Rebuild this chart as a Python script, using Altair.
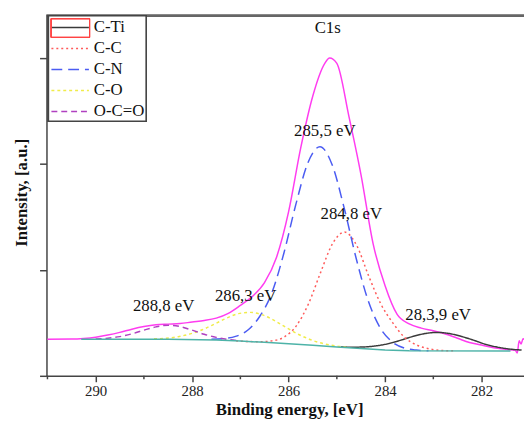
import altair as alt
import pandas as pd

# ---------------- data ----------------
series_names = ["C-Ti", "C-C", "C-N", "C-O", "O-C=O"]
series_colors = ["#3a3a3a", "#ff5a5a", "#4b5cf2", "#f0ec4a", "#b040c0"]
series_dashes = [[1, 0], [2, 3], [11, 6], [3, 3], [6, 4]]

# envelope (sum curve)
env_e = [291.0, 290.5, 290.25, 290.0, 289.75, 289.5, 289.25, 289.0, 288.75, 288.5,
         288.25, 288.0, 287.75, 287.5, 287.25, 287.0, 286.75, 286.5, 286.25, 286.0,
         285.75, 285.5, 285.25, 285.15, 285.0, 284.75, 284.5, 284.25, 284.0, 283.75,
         283.5, 283.25, 283.0, 282.75, 282.5, 282.25, 282.0, 281.75, 281.5, 281.3,
         281.26, 281.22, 281.18, 281.14, 281.1]
env_v = [0.345, 0.347, 0.353, 0.365, 0.385, 0.41, 0.44, 0.465, 0.482, 0.488,
         0.493, 0.508, 0.522, 0.545, 0.59, 0.665, 0.75, 0.88, 1.12, 1.55,
         2.15, 2.64, 2.95, 3.0, 2.95, 2.45, 1.9, 1.25, 0.85, 0.58,
         0.49, 0.45, 0.425, 0.395, 0.355, 0.315, 0.29, 0.265, 0.25, 0.24,
         0.215, 0.33, 0.30, 0.35, 0.34]

# C-N component
cn_e = [287.60, 287.35, 287.10, 286.85, 286.60, 286.35, 286.10, 285.85, 285.60, 285.35,
        285.10, 284.85, 284.60, 284.35, 284.10, 283.85, 283.60, 283.35, 283.10]
cn_v = [0.345, 0.352, 0.372, 0.43, 0.56, 0.78, 1.155, 1.618, 2.011, 2.163,
        1.995, 1.588, 1.11, 0.709, 0.452, 0.319, 0.262, 0.243, 0.237]

# C-C component
cc_e = [287.09, 286.84, 286.59, 286.34, 286.09, 285.84, 285.59, 285.34, 285.09, 284.84,
        284.59, 284.34, 284.09, 283.84, 283.59, 283.34, 283.09, 282.84, 282.59]
cc_v = [0.330, 0.324, 0.322, 0.330, 0.367, 0.472, 0.678, 0.972, 1.247, 1.357,
        1.232, 0.942, 0.68, 0.50, 0.36, 0.29, 0.255, 0.24, 0.236]

# C-O component
co_e = [288.79, 288.54, 288.29, 288.04, 287.79, 287.54, 287.29, 287.04, 286.79, 286.54,
        286.29, 286.04, 285.79, 285.54, 285.29, 285.04, 284.79]
co_v = [0.349, 0.355, 0.369, 0.396, 0.435, 0.488, 0.544, 0.587, 0.599, 0.575,
        0.521, 0.453, 0.390, 0.340, 0.305, 0.283, 0.270]

# O-C=O component
oco_e = [290.0, 289.75, 289.5, 289.25, 289.0, 288.75, 288.5, 288.25, 288.0, 287.75,
         287.5, 287.25, 287.0]
oco_v = [0.348, 0.355, 0.370, 0.396, 0.431, 0.462, 0.478, 0.465, 0.431, 0.392,
         0.363, 0.343, 0.331]

# C-Ti component
cti_e = [284.92, 284.67, 284.42, 284.17, 283.92, 283.67, 283.42, 283.17, 282.92, 282.67,
         282.42, 282.17, 281.92, 281.67, 281.42, 281.17]
cti_v = [0.273, 0.270, 0.273, 0.284, 0.305, 0.337, 0.372, 0.399, 0.410, 0.399,
         0.372, 0.337, 0.298, 0.271, 0.253, 0.243]

# background
bg_e = [290.3, 288.5, 287.5, 287.0, 286.5, 286.0, 285.5, 285.0, 284.5, 284.0, 283.5, 281.4]
bg_v = [0.345, 0.345, 0.338, 0.328, 0.316, 0.302, 0.288, 0.272, 0.257, 0.243, 0.236, 0.235]

# annotations
ann_text = ["C1s", "285,5 eV", "284,8 eV", "286,3 eV", "288,8 eV", "28,3,9 eV"]
ann_e = [285.19, 285.25, 284.70, 286.89, 288.59, 282.90]
ann_v = [3.28, 2.31, 1.53, 0.755, 0.655, 0.575]

major_ticks = [290, 288, 286, 284, 282]
minor_ticks = [291, 289, 287, 285, 283]
y_ticks = [0, 1, 2, 3]

# ---------------- build tables ----------------
comp_rows = []
for name, es, vs in [("C-Ti", cti_e, cti_v), ("C-C", cc_e, cc_v), ("C-N", cn_e, cn_v),
                     ("C-O", co_e, co_v), ("O-C=O", oco_e, oco_v)]:
    for i, (e, v) in enumerate(zip(es, vs)):
        comp_rows.append({"series": name, "E": e, "v": v, "i": i})
comp_df = pd.DataFrame(comp_rows)
env_df = pd.DataFrame({"E": env_e, "v": env_v, "i": range(len(env_e))})
bg_df = pd.DataFrame({"E": bg_e, "v": bg_v, "i": range(len(bg_e))})
ann_df = pd.DataFrame({"E": ann_e, "v": ann_v, "t": ann_text})
minor_df = pd.DataFrame({"E": minor_ticks})
leg_df = pd.DataFrame({"series": series_names})

W, H = 484, 365
FONT = "Liberation Serif, Times New Roman, Times, serif"
TXT = "#111111"

xscale = alt.Scale(domain=[281.12, 291.02], reverse=True, nice=False, zero=False)
yscale = alt.Scale(domain=[0, 3.4], nice=False, zero=False)

xaxis = alt.Axis(values=major_ticks, format="d", tickSize=6, labelFontSize=15,
                 labelFont=FONT, labelColor="#222", labelPadding=2,
                 domainColor="#444", domainWidth=1.5, tickColor="#444", tickWidth=1.5,
                 title="Binding energy, [eV]", titleFont=FONT, titleFontSize=17,
                 titleFontWeight="bold", titleColor=TXT, titleX=246, titleY=34,
                 titleBaseline="middle", titleAlign="center", grid=False)
yaxis = alt.Axis(values=y_ticks, labels=False, tickSize=7, tickColor="#444", tickWidth=1.5,
                 domainColor="#444", domainWidth=1.5,
                 title="Intensity, [a.u.]", titleFont=FONT, titleFontSize=17,
                 titleFontWeight="bold", titleColor=TXT, titleAngle=270,
                 titleX=-25, titleY=179, titleBaseline="middle", titleAlign="center",
                 grid=False)

X = alt.X("E:Q", scale=xscale, axis=xaxis)
Y = alt.Y("v:Q", scale=yscale, axis=yaxis)
COLOR = alt.Color("series:N", scale=alt.Scale(domain=series_names, range=series_colors),
                  legend=None)
DASH = alt.StrokeDash("series:N", scale=alt.Scale(domain=series_names, range=series_dashes),
                      legend=None)

envelope = alt.Chart(env_df).mark_line(color="#ff3cf0", strokeWidth=1.5,
                                        interpolate="monotone").encode(x=X, y=Y, order="i:Q")

components = alt.Chart(comp_df).mark_line(strokeWidth=1.5, interpolate="monotone").encode(
    x=X, y=Y, order="i:Q", color=COLOR, strokeDash=DASH)

background = alt.Chart(bg_df).mark_line(color="#4db3a8", strokeWidth=1.5).encode(
    x=X, y=Y, order="i:Q")

labels = alt.Chart(ann_df).mark_text(font=FONT, fontSize=17, color=TXT).encode(
    x=X, y=Y, text="t:N")

minor = alt.Chart(minor_df).mark_rule(color="#444", strokeWidth=1.5).encode(
    x=X, y=alt.value(H), y2=alt.value(H + 3.5))

top_line = alt.Chart(minor_df).mark_rule(color="#666", strokeWidth=2).encode(
    x=alt.value(0), x2=alt.value(W), y=alt.value(0))

main = alt.layer(envelope, components, background, labels, minor, top_line)

# ---- legend drawn as marks ----
LEG_Y = alt.Y("series:N", axis=None,
              scale=alt.Scale(type="point", domain=series_names, range=[12, 97], padding=0))

leg_box = alt.Chart(leg_df).mark_rect(fill="white", stroke="#444", strokeWidth=1.5).encode(
    x=alt.value(2), x2=alt.value(101), y=alt.value(0), y2=alt.value(107))
leg_lines = alt.Chart(leg_df).mark_rule(strokeWidth=1.5).encode(
    x=alt.value(5), x2=alt.value(43), y=LEG_Y, color=COLOR, strokeDash=DASH)
leg_text = alt.Chart(leg_df).mark_text(font=FONT, fontSize=17, color=TXT, align="left",
                                       baseline="middle").encode(
    x=alt.value(48), y=LEG_Y, text="series:N")
sel_box = alt.Chart(leg_df).mark_rect(fill=None, stroke="#ff4444", strokeWidth=1).encode(
    x=alt.value(4.7), x2=alt.value(43.7), y=alt.value(3), y2=alt.value(22))

legend_layer = alt.layer(leg_box, leg_lines, leg_text, sel_box)

chart = alt.layer(main, legend_layer).resolve_scale(y="independent").properties(
    width=W, height=H,
    autosize=alt.AutoSizeParams(type="none"),
    padding={"left": 39, "top": 5, "right": 0, "bottom": 43},
).configure_view(stroke=None)

chart.save("out.html", embed_options={"renderer": "svg", "actions": False})
